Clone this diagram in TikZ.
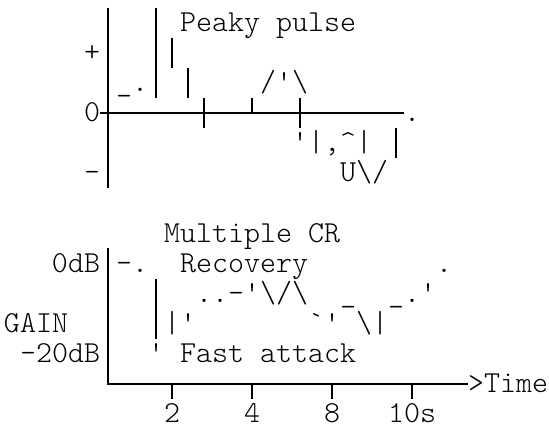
\documentclass[tikz,border=0pt]{standalone}

\begin{document}
\begin{tikzpicture}[x=12pt,y=-22.575pt,
  ch/.style={font=\ttfamily\fontseries{l}\fontsize{22.86}{24}\selectfont,inner sep=0pt,outer sep=0pt,anchor=base west,yshift=-6.6pt},
  box/.style={line width=1.5pt}]
\useasboundingbox (-0.75,-0.754) rectangle (33.5625,13.465);
% upper graph
\coordinate (ptop) at (6,-0.5);
\coordinate (pbot) at (6,5.5);
\coordinate (pleft) at (5.5,3);
\coordinate (pright) at (24.5,3);
\draw[box] (ptop) -- (pbot);
\draw[box] (pleft) -- (pright);
\draw[box] (9,-0.5) -- (9,2.5);
\draw[box] (10,0.5) -- (10,1.5);
\draw[box] (11,1.5) -- (11,2.5);
\draw[box] (12,2.5) -- (12,3.5);
\draw[box] (15,2.5) -- (15,3);
\draw[box] (18,2.5) -- (18,3.5);
\draw[box] (24,3.5) -- (24,4.5);
\node[ch] (peaky) at (10.5,0) {Peaky pulse};
\node[ch] (plus) at (4.5,1) {+};
\node[ch] (foot) at (6.5,2) {\_.};
\node[ch] (hump) at (15.5,2) {/\textquotesingle\textbackslash};
\node[ch] (zero) at (4.5,3) {0};
\node[ch] (tail) at (24.5,3) {.};
\node[ch] (ring) at (17.5,4) {\textquotesingle|,\textasciicircum|};
\node[ch] (minus) at (4.5,5) {-};
\node[ch] (dip) at (20.5,5) {U\textbackslash/};
% lower graph
\coordinate (gtop) at (6,7.5);
\coordinate (gcorner) at (6,12);
\coordinate (gend) at (28.5,12);
\draw[box] (gtop) -- (gcorner) -- (gend);
\draw[box] (9,8.5) -- (9,10.5);
\foreach \c in {10,15,20,25}
  \draw[box] (\c,12) -- (\c,12.5);
\node[ch] (multi) at (9.5,7) {Multiple CR};
\node[ch] (odb) at (2.5,8) {0dB};
\node[ch] (drop) at (6.5,8) {-.};
\node[ch] (recov) at (10.5,8) {Recovery};
\node[ch] (top) at (26.5,8) {.};
\node[ch] (rise) at (11.5,9) {..-\textquotesingle\textbackslash/\textbackslash};
\node[ch] (barA) at (20.5,9) {\_};
\node[ch] (barB) at (23.5,9) {\_.\textquotesingle};
\node[ch] (gain) at (-0.5,10) {GAIN};
\node[ch] (low) at (9.5,10) {|\textquotesingle};
\node[ch] (wig) at (18.5,10) {\textasciigrave\textquotesingle};
\node[ch] (wag) at (21.5,10) {\textbackslash|};
\node[ch] (mdb) at (0.5,11) {-20dB};
\node[ch] (tick) at (8.5,11) {\textquotesingle};
\node[ch] (fast) at (10.5,11) {Fast attack};
\node[ch] (time) at (28.5,12) {>Time};
\node[ch] (t2) at (9.5,13) {2};
\node[ch] (t4) at (14.5,13) {4};
\node[ch] (t8) at (19.5,13) {8};
\node[ch] (t10) at (23.5,13) {10s};
\end{tikzpicture}
\end{document}
